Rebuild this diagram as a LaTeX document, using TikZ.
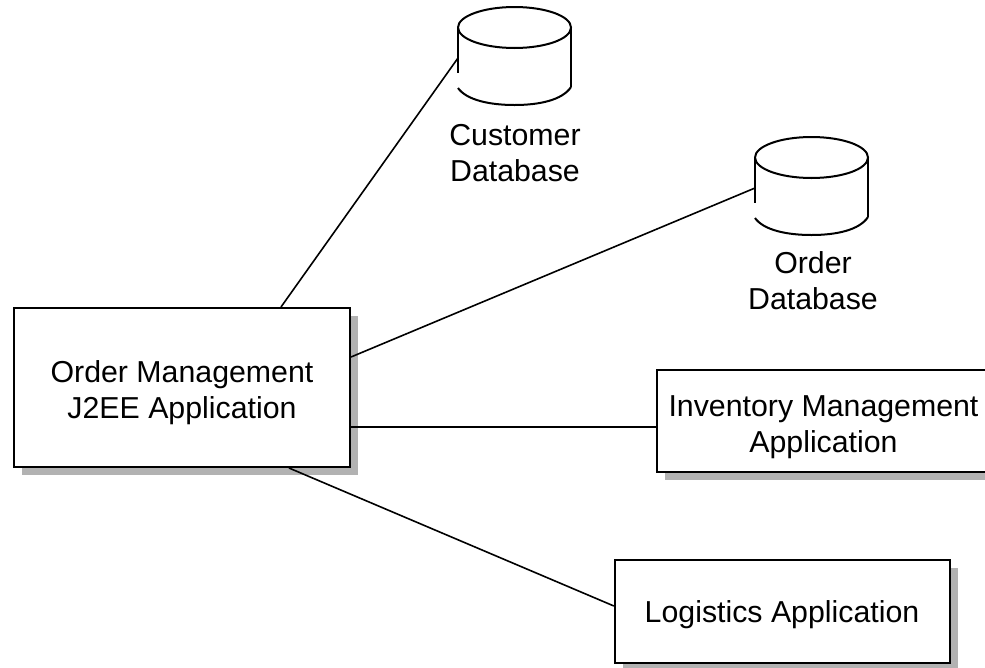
\documentclass[tikz,border=0pt]{standalone}
\usepackage{fontspec}
\setmainfont{Liberation Sans}
\usetikzlibrary{shadows}
\tikzset{
  appbox/.style={draw=black, line width=2.2pt, fill=white, inner sep=0pt,
    drop shadow={shadow xshift=8pt, shadow yshift=-8pt, fill=black!30, opacity=1}},
  link/.style={draw=black, line width=1.6pt},
  dblabel/.style={align=center, inner sep=0pt, font=\fontsize{30.3}{36}\selectfont},
  dbline/.style={draw=black, line width=2pt},
  pics/db/.style={code={
    \draw[dbline] (-56.5,-29.5) arc[x radius=56.5, y radius=20.5, start angle=180, end angle=-180];
    \draw[dbline] (-56.5,-29.5) -- (-56.5,16);
    \draw[dbline] (56.5,-29.5) -- (56.5,30);
    \draw[dbline] (-56.5,31) .. controls (-48,43) and (-25,48) .. (0,48) .. controls (25,48) and (48,43) .. (56.5,30);
    \coordinate (-port) at (-56.5,1);
  }}
}
\begin{document}
\begin{tikzpicture}[x=1pt,y=-1pt]
  \useasboundingbox (0,0) rectangle (985,667);
  \clip (0,0) rectangle (985,667);
  \fill[white] (0,0) rectangle (985,667);
  \pic (cust) at (514.5,57) {db};
  \pic (ord) at (811.5,187) {db};
  \node[dblabel] (custlabel) at (515,153.5) {Customer\\Database};
  \node[dblabel] (ordlabel) at (813,281) {Order\\Database};

  \coordinate (mtop) at (281,307);
  \coordinate (mright) at (351,357);
  \coordinate (mbottom) at (289,468);
  \node[appbox, minimum width=336pt, minimum height=159pt] (main) at (182,387.5) {};
  \node[appbox, minimum width=333pt, minimum height=102pt] (inv) at (823.5,421) {};
  \node[appbox, minimum width=335pt, minimum height=103pt] (log) at (782.5,611.5) {};
  \node[dblabel] (maintext) at (182,393) {Order Management\\J2EE Application};
  \node[dblabel] (invtext) at (823.5,427) {Inventory Management\\Application};
  \node[dblabel] (logtext) at (782,615) {Logistics Application};

  \draw[link] (mtop) -- (cust-port);
  \draw[link] (mright) -- (ord-port);
  \draw[link] (main.east |- 0,427) -- (inv.west |- 0,427);
  \draw[link] (mbottom) -- (log.west |- 0,606);
\end{tikzpicture}
\end{document}
